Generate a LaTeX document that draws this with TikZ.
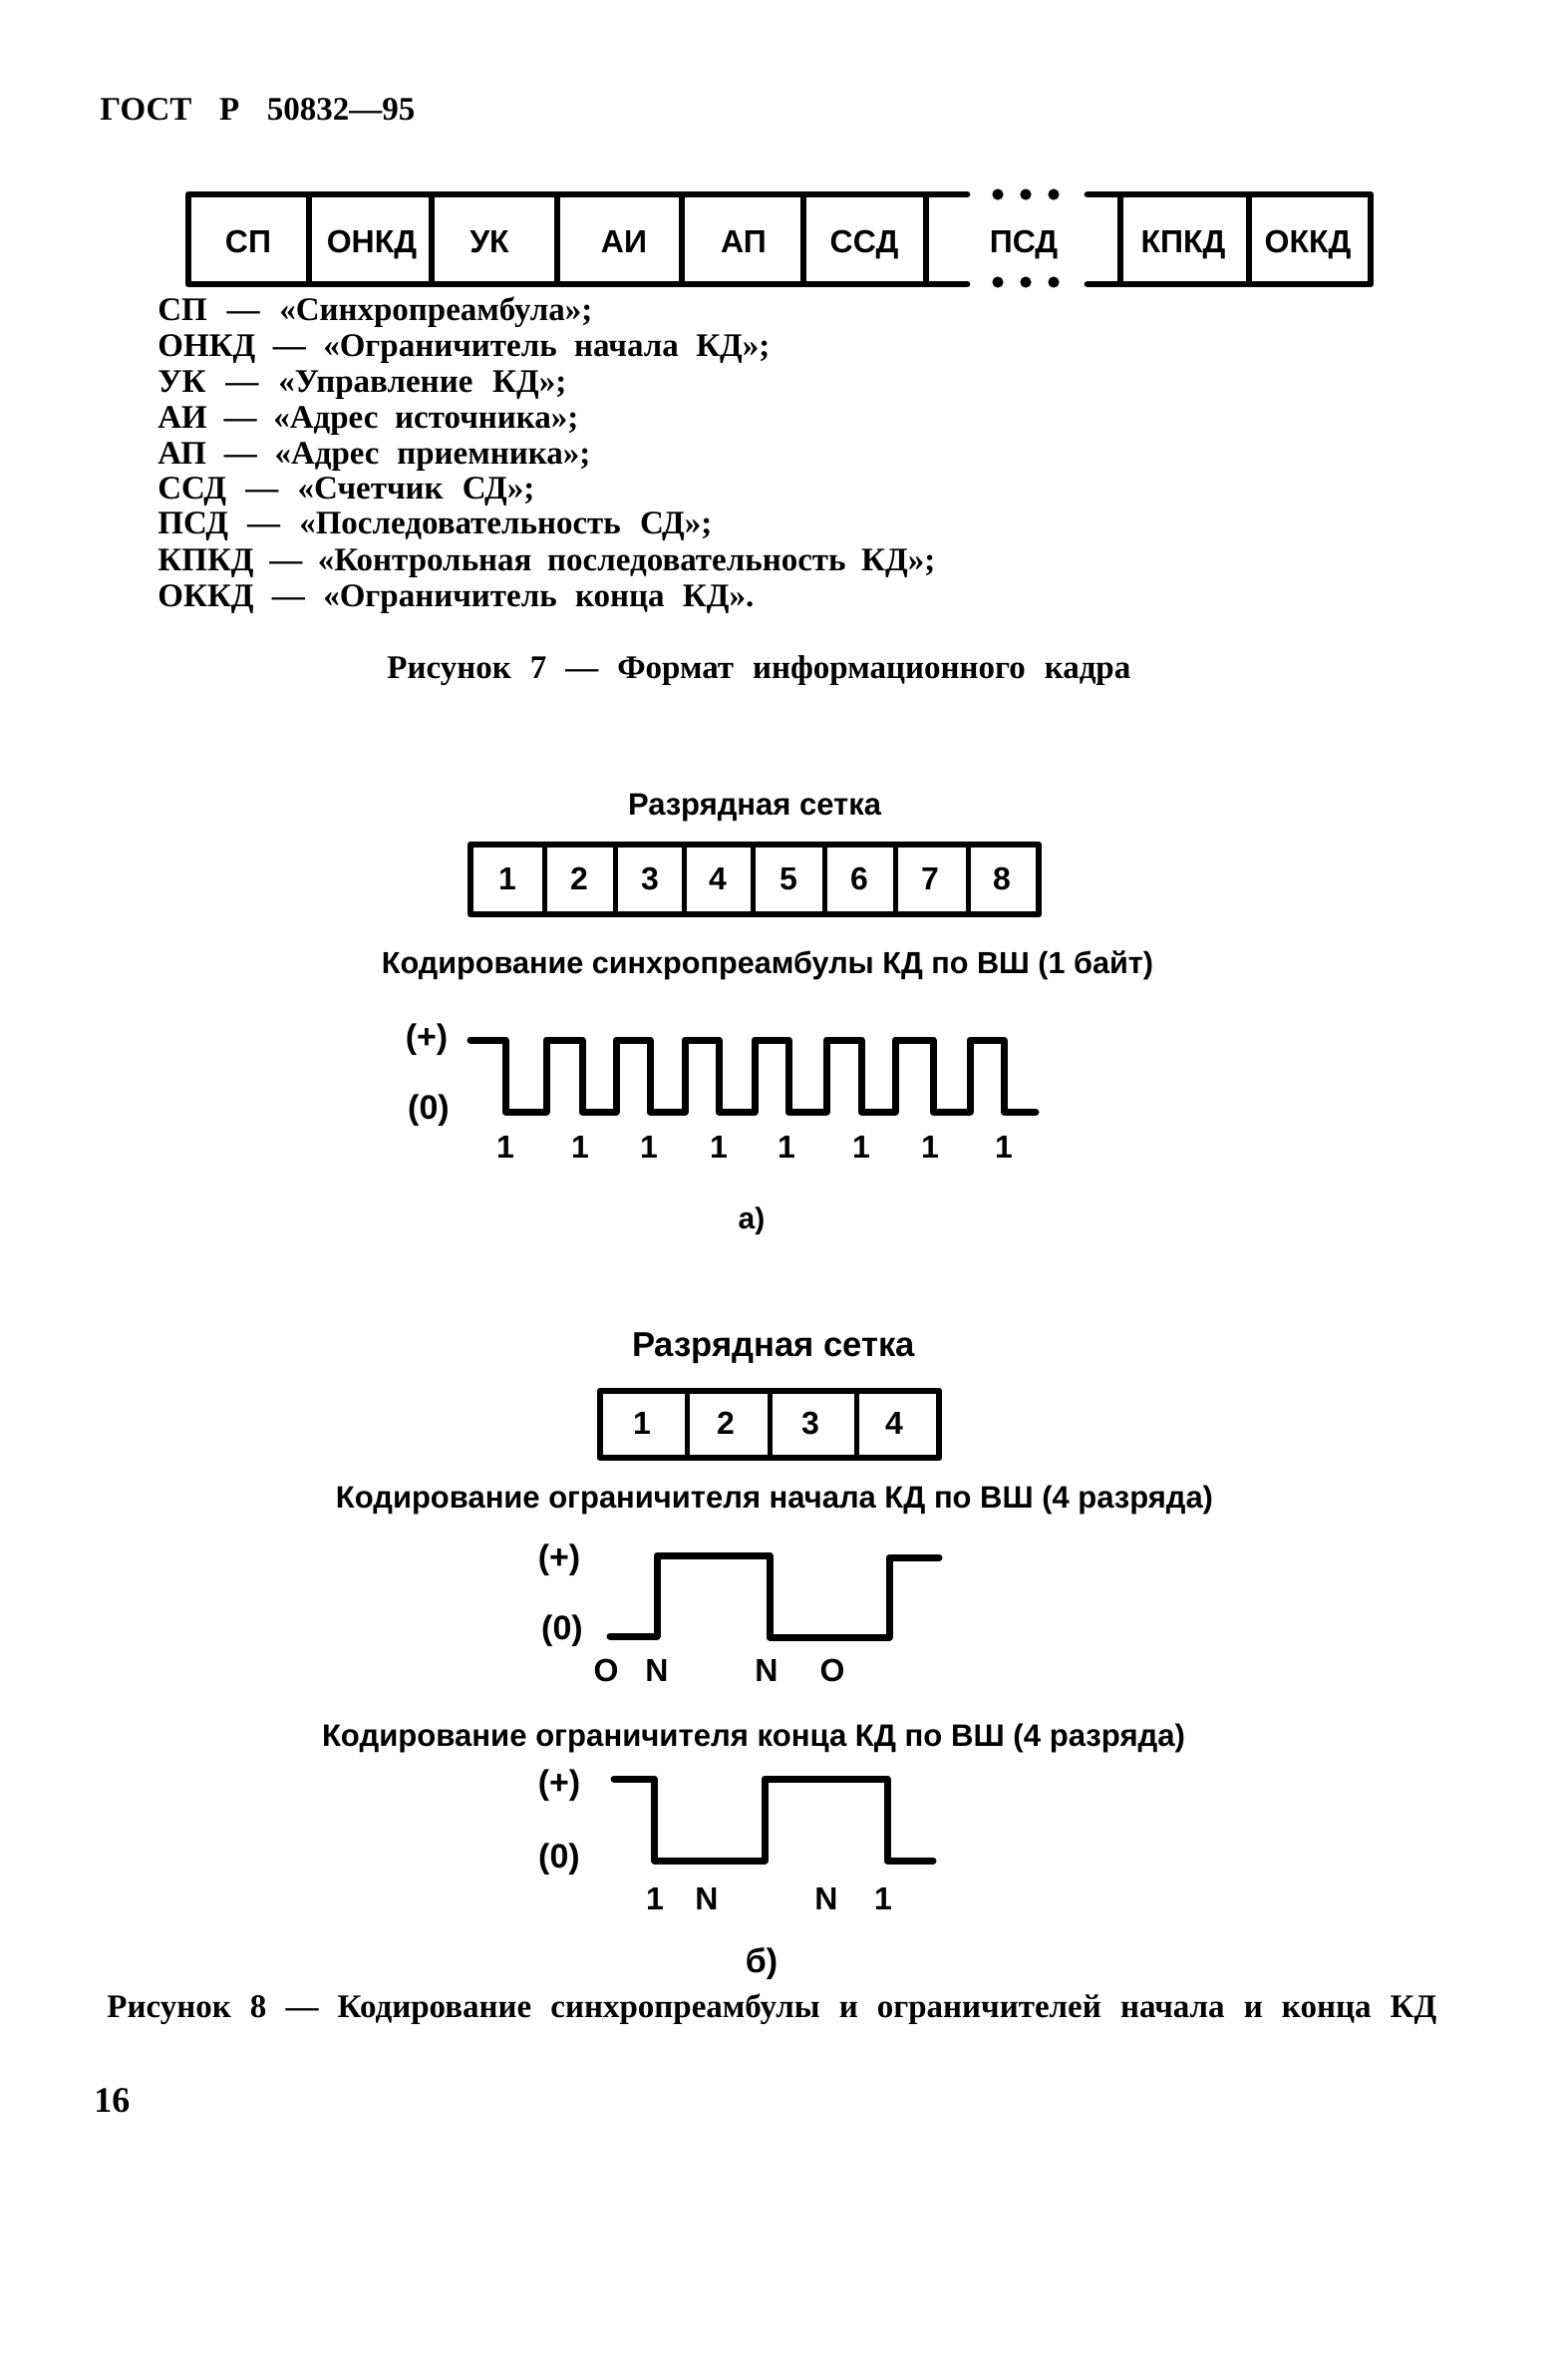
\documentclass[tikz,border=0pt]{standalone}
\usepackage{fontspec}
\usepackage{graphicx}
\setmainfont{Liberation Serif}
\newfontfamily\hd{Liberation Sans}
\tikzset{
 fr/.style={line width=3.4pt,line cap=round,line join=round},
 div/.style={line width=2.8pt},
 thin div/.style={line width=2.5pt},
 wave/.style={line width=3.5pt,line cap=round,line join=round},
 hd/.style={font=\hd\bfseries\fontsize{15}{17}\selectfont,inner sep=0pt},
 cell/.style={font=\hd\bfseries\fontsize{16}{18}\selectfont,inner sep=0pt,text height=11.5pt,text depth=0pt},
 lab/.style={font=\hd\bfseries\fontsize{16}{18}\selectfont,inner sep=0pt,text height=11.5pt,text depth=0pt},
 labp/.style={font=\hd\bfseries\fontsize{17}{19}\selectfont,inner sep=0pt},
 ln/.style={font=\bfseries\fontsize{16.5}{18}\selectfont,inner sep=0pt,anchor=west},
 dot/.style={circle,fill=black,inner sep=0pt,minimum size=5.6pt},
}
\newcommand{\sized}[2]{\makebox[#1][s]{#2}}
\newcommand{\fitw}[2]{\resizebox{#1}{!}{#2}}
\begin{document}
\begin{tikzpicture}[x=0.5pt,y=-0.5pt]
\useasboundingbox (0,0) rectangle (1568,2387);
\fill[white] (0,0) rectangle (1568,2387);
\node[ln] (title) at (100,110) {\sized{158pt}{ГОСТ Р 50832—95}};
% Figure 7 frame
\draw[fr] (970,195) -- (189,195) -- (189,285) -- (970,285);
\draw[fr] (1091,195) -- (1375,195) -- (1375,285) -- (1091,285);
\foreach \x in {310,433,559,684,806,929,1124,1253} \draw[div] (\x,195) -- (\x,285);
\foreach \x/\n in {1001/a,1029/b,1057/c} {
  \node[dot] (dt\n) at (\x,195) {};
  \node[dot] (db\n) at (\x,283) {};
}
\node[cell] (c1) at (249,242) {СП};
\node[cell] (c2) at (373,242) {ОНКД};
\node[cell] (c3) at (491,242) {УК};
\node[cell] (c4) at (626,242) {АИ};
\node[cell] (c5) at (746,242) {АП};
\node[cell] (c6) at (867,242) {ССД};
\node[cell] (c7) at (1027,242) {ПСД};
\node[cell] (c8) at (1187,242) {КПКД};
\node[cell] (c9) at (1312,242) {ОККД};
% Legend
\node[ln] (l1) at (158,313) {\sized{218pt}{СП — «Синхропреамбула»;}};
\node[ln] (l2) at (158,350) {\sized{307pt}{ОНКД — «Ограничитель начала КД»;}};
\node[ln] (l3) at (158,386) {\sized{205pt}{УК — «Управление КД»;}};
\node[ln] (l4) at (158,422) {\sized{211pt}{АИ — «Адрес источника»;}};
\node[ln] (l5) at (158,458) {\sized{217pt}{АП — «Адрес приемника»;}};
\node[ln] (l6) at (158,493) {\sized{189pt}{ССД — «Счетчик СД»;}};
\node[ln] (l7) at (158,528) {\sized{278pt}{ПСД — «Последовательность СД»;}};
\node[ln] (l8) at (158,565) {\sized{390pt}{КПКД — «Контрольная последовательность КД»;}};
\node[ln] (l9) at (158,601) {\sized{299pt}{ОККД — «Ограничитель конца КД».}};
\node[ln] (cap7) at (388,673) {\sized{373pt}{Рисунок 7 — Формат информационного кадра}};
% Figure 8a
\node[hd] (ha1) at (757,810) {\fitw{127pt}{Разрядная сетка}};
\draw[fr] (472,847) rectangle (1042,917);
\foreach \x in {546,617,686,755,827,898,971} \draw[thin div] (\x,847) -- (\x,917);
\foreach \x/\t in {509/1,581/2,652/3,720/4,791/5,862/6,933/7,1005/8} \node[lab] (g\t) at (\x,881) {\t};
\node[hd] (ha2) at (770,968) {\fitw{387pt}{Кодирование синхропреамбулы КД по ВШ (1 байт)}};
\node[labp] (pa) at (428,1043) {(+)};
\node[labp] (za) at (430,1114) {(0)};
\draw[wave] (472,1043) -| (507,1115) -| (548,1043) -| (584,1115) -| (618,1043) -| (652,1115) -| (687,1043) -| (721,1115) -| (757,1043) -| (791,1115) -| (829,1043) -| (864,1115) -| (898,1043) -| (936,1115) -| (973,1043) -| (1007,1115) -- (1039,1115);
\foreach \x/\n in {507/1,582/2,651/3,721/4,789/5,864/6,933/7,1007/8} \node[lab] (va\n) at (\x,1150) {1};
\node[hd] (sa) at (754,1225) {а)};
% Figure 8b
\node[hd] (hb1) at (776,1352) {\fitw{142pt}{Разрядная сетка}};
\draw[fr] (602,1395) rectangle (942,1462);
\foreach \x in {689,772,859} \draw[thin div] (\x,1395) -- (\x,1462);
\foreach \x/\t in {644/1,728/2,813/3,897/4} \node[lab] (h\t) at (\x,1427) {\t};
\node[hd] (hb2) at (777,1504) {\fitw{440pt}{Кодирование ограничителя начала КД по ВШ (4 разряда)}};
\node[labp] (pb) at (561,1565) {(+)};
\node[labp] (zb) at (564,1636) {(0)};
\draw[wave] (612,1641) -| (659,1560) -| (772,1642) -| (892,1562) -- (942,1562);
\foreach \x/\t/\n in {608/O/1,659/N/2,769/N/3,835/O/4} \node[lab] (vb\n) at (\x,1675) {\t};
\node[hd] (hb3) at (756,1743) {\fitw{433pt}{Кодирование ограничителя конца КД по ВШ (4 разряда)}};
\node[labp] (pc) at (561,1791) {(+)};
\node[labp] (zc) at (561,1865) {(0)};
\draw[wave] (616,1784) -| (656,1866) -| (767,1784) -| (890,1866) -- (936,1866);
\foreach \x/\t/\n in {657/1/1,709/N/2,829/N/3,886/1/4} \node[lab] (vc\n) at (\x,1904) {\t};
\node[hd,font=\hd\bfseries\fontsize{17}{19}\selectfont] (sb) at (764,1970) {б)};
\node[ln] (cap8) at (107,2015) {\sized{667pt}{Рисунок 8 — Кодирование синхропреамбулы и ограничителей начала и конца КД}};
\node[ln,font=\bfseries\fontsize{18}{20}\selectfont] (pg) at (94,2107) {\sized{18pt}{16}};
\end{tikzpicture}
\end{document}
